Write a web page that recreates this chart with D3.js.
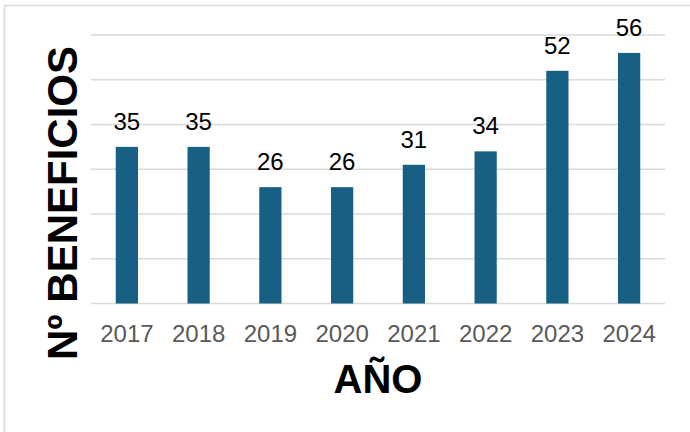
<!DOCTYPE html>
<html>
<head>
<meta charset="utf-8">
<script src="https://cdn.jsdelivr.net/npm/d3@7"></script>
<style>
  body { margin: 0; background: #fff; }
  text { font-family: "Liberation Sans", Arial, sans-serif; }
</style>
</head>
<body>
<div id="chart"></div>
<script>
var width = 690;
var height = 432;

var years = ["2017", "2018", "2019", "2020", "2021", "2022", "2023", "2024"];
var beneficios = [35, 35, 26, 26, 31, 34, 52, 56];
var yTicks = [0, 10, 20, 30, 40, 50, 60];

var data = years.map(function(y, i) { return { year: y, value: beneficios[i] }; });

var svg = d3.select("#chart")
    .append("svg")
    .attr("width", width)
    .attr("height", height);

// chart frame
svg.append("rect")
    .attr("x", 4.5)
    .attr("y", 5.5)
    .attr("width", width)
    .attr("height", height)
    .attr("fill", "none")
    .attr("stroke", "#d9d9d9")
    .attr("stroke-width", 1.5);

var xScale = d3.scaleBand().domain(years).range([91, 665]).paddingInner(0.69).paddingOuter(0.345);
var yScale = d3.scaleLinear().domain([0, 60]).range([303.5, 35]);

// gridlines
svg.append("g")
    .selectAll("line")
    .data(yTicks)
    .enter()
    .append("line")
    .attr("x1", 91)
    .attr("x2", 665)
    .attr("y1", function(d) { return yScale(d); })
    .attr("y2", function(d) { return yScale(d); })
    .attr("stroke", "#d9d9d9")
    .attr("stroke-width", 1.5);

// bars
svg.append("g")
    .selectAll("rect")
    .data(data)
    .enter()
    .append("rect")
    .attr("x", function(d) { return xScale(d.year); })
    .attr("y", function(d) { return yScale(d.value); })
    .attr("width", xScale.bandwidth())
    .attr("height", function(d) { return yScale(0) - yScale(d.value); })
    .attr("fill", "#176083");

// value labels
svg.append("g")
    .selectAll("text")
    .data(data)
    .enter()
    .append("text")
    .attr("x", function(d) { return xScale(d.year) + xScale.bandwidth() / 2; })
    .attr("y", function(d) { return yScale(d.value) - 17; })
    .attr("text-anchor", "middle")
    .attr("font-size", "24px")
    .attr("fill", "#000")
    .text(function(d) { return d.value; });

// x axis labels
var xAxis = d3.axisBottom(xScale).tickSize(0).tickPadding(0);
var gx = svg.append("g")
    .attr("transform", "translate(0,303.5)")
    .call(xAxis);
gx.select(".domain").remove();
gx.selectAll("text")
    .attr("dy", null)
    .attr("y", 38.5)
    .attr("font-size", "24px")
    .attr("font-family", "Liberation Sans, Arial, sans-serif")
    .attr("fill", "#595959");

// axis titles
svg.append("text")
    .attr("x", 378)
    .attr("y", 393)
    .attr("text-anchor", "middle")
    .attr("font-size", "40px")
    .attr("font-weight", "bold")
    .text("AÑO");

svg.append("text")
    .attr("transform", "translate(77,203) rotate(-90)")
    .attr("text-anchor", "middle")
    .attr("font-size", "42px")
    .attr("font-weight", "bold")
    .text("Nº BENEFICIOS");
</script>
</body>
</html>
